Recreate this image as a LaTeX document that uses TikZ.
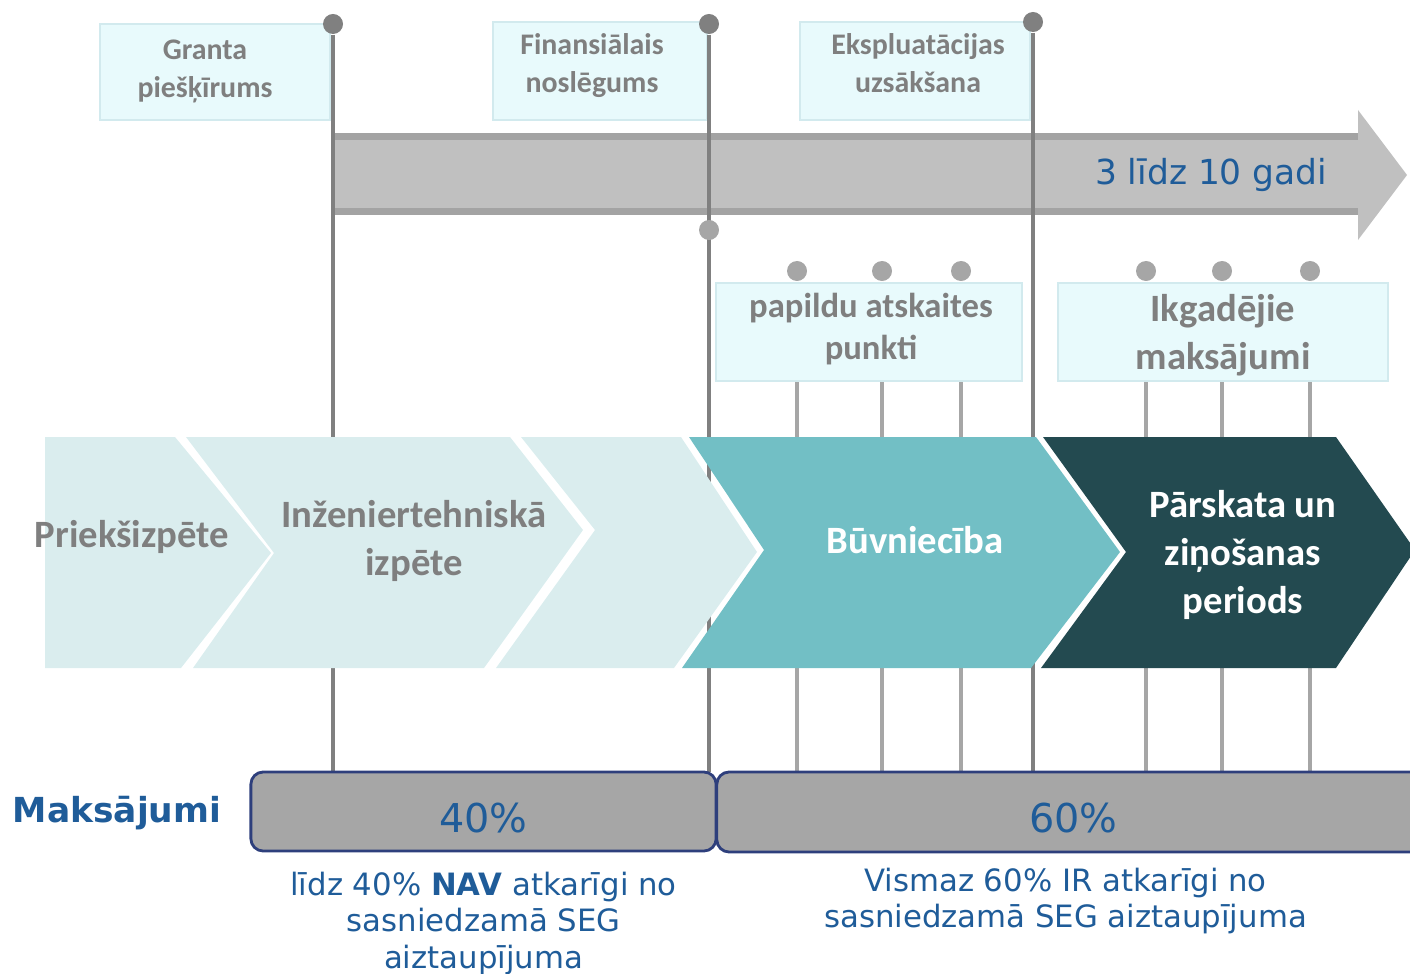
\documentclass[tikz,border=0pt]{standalone}
\usepackage{fontspec}
\setmainfont{Carlito}
\newfontfamily\verdana{DejaVu Sans}
\usetikzlibrary{positioning}
\definecolor{pGray}{HTML}{808080}
\definecolor{pLight}{HTML}{A6A6A6}
\definecolor{pBar}{HTML}{C0C0C0}
\definecolor{pBarEdge}{HTML}{A3A3A3}
\definecolor{pBox}{HTML}{E8FAFC}
\definecolor{pBoxLine}{HTML}{D2EAEE}
\definecolor{pText}{HTML}{7F7F7F}
\definecolor{pPale}{HTML}{DAEDEE}
\definecolor{pTeal}{HTML}{72BFC5}
\definecolor{pDark}{HTML}{234A50}
\definecolor{pBlue}{HTML}{1F5C99}
\definecolor{pNavy}{HTML}{2E3F7C}

\begin{document}
\begin{tikzpicture}[x=0.01cm, y=-0.01cm,
    tag/.style={draw=pBoxLine, fill=pBox, line width=0.7pt, inner sep=0pt},
    tagtext/.style={text=pText, align=center, inner sep=0pt, font=\bfseries\fontsize{8.5}{10.8}\selectfont},
    bigdot/.style={circle, fill=pGray, inner sep=0pt, minimum size=0.2cm},
    smalldot/.style={circle, fill=pLight, inner sep=0pt, minimum size=0.2cm},
    bigline/.style={draw=pGray, line width=1.4pt},
    smallline/.style={draw=pLight, line width=1.1pt},
    phase/.style={text=pText, align=center, font=\bfseries\fontsize{11}{13.7}\selectfont},
    paybar/.style={draw=pNavy, fill=pLight, line width=0.8pt, rounded corners=3.5pt, text=pBlue,
        text height=11.8pt, text depth=0pt, font=\verdana\fontsize{11.3}{13}\selectfont},
    note/.style={text=pBlue, align=center, font=\verdana\fontsize{8.75}{10.4}\selectfont}]
    \useasboundingbox (0,0) rectangle (1410,973);

    % time arrow
    \fill[pBar] (333,136) rectangle (1358,212);
    \draw[pBarEdge, line width=2pt] (333,136.5) -- (1358,136.5) (333,211.5) -- (1358,211.5);
    \fill[pBar] (1358,110) -- (1407,175) -- (1358,240) -- cycle;
    \node[anchor=east, inner sep=0pt, text=pBlue, font=\verdana\fontsize{9.8}{12}\selectfont] (span) at (1328,175) {3 līdz 10 gadi};

    % reporting points
    \foreach \x [count=\i] in {797,882,961,1146,1222,1310} {
        \node[smalldot] (s\i) at (\x,271) {};
        \coordinate (sb\i) at (\x,772);
        \draw[smallline] (s\i) -- (sb\i);
    }

    \node[tag, minimum width=2.3cm, minimum height=0.96cm] (grant) at (215,72) {};
    \node[tag, minimum width=2.14cm, minimum height=0.98cm] (close) at (600,71) {};
    \node[tag, minimum width=2.3cm, minimum height=0.98cm] (ops) at (915,71) {};
    \node[tag, minimum width=3.06cm, minimum height=0.98cm] (extra) at (869,332) {};
    \node[tag, minimum width=3.3cm, minimum height=0.98cm] (annual) at (1223,332) {};
    \node[tagtext] (grantT) at (205,71) {Granta\\piešķīrums};
    \node[tagtext] (closeT) at (592,66) {Finansiālais\\noslēgums};
    \node[tagtext] (opsT) at (918,63) {Ekspluatācijas\\uzsākšana};
    \node[tagtext, font=\bfseries\fontsize{9.85}{12}\selectfont] (extraT) at (871,329) {papildu atskaites\\punkti};
    \node[tagtext, font=\bfseries\fontsize{11}{13.7}\selectfont] (annualT) at (1223,335) {Ikgadējie\\maksājumi};

    % milestones
    \foreach \x/\y/\n in {333/24/m1, 709/24/m2, 1033/22/m3} {
        \node[bigdot] (\n) at (\x,\y) {};
        \coordinate (\n b) at (\x,772);
        \draw[bigline] (\n) -- (\n b);
    }
    \node[smalldot] (m2x) at (709,230) {};

    % phases
    \fill[pPale] (45,437) -- (175,437) -- (271,553) -- (181,668) -- (45,668) -- cycle;
    \fill[pPale] (186,437) -- (510,437) -- (583,530) -- (484,668) -- (193,668) -- (274,553) -- cycle;
    \fill[pPale] (521,437) -- (681,437) -- (757,552) -- (674,668) -- (496,668) -- (595,530) -- cycle;
    \fill[pTeal] (689,437) -- (1036,437) -- (1120,552) -- (1031,668) -- (682,668) -- (764,550) -- cycle;
    \fill[pDark] (1043,437) -- (1336,437) -- (1415,550) -- (1336,668) -- (1041,668) -- (1126,552) -- cycle;
    \node[phase] (pre) at (132,537) {Priekšizpēte};
    \node[phase] (eng) at (414,541) {Inženiertehniskā\\izpēte};
    \node[phase, text=white] (build) at (915,540) {Būvniecība};
    \node[phase, text=white] (report) at (1243,555) {Pārskata un\\ziņošanas\\periods};

    % payments
    \node[paybar, minimum width=4.65cm, minimum height=0.79cm] (p40) at (483.5,811.5) {40\%};
    \node[paybar, minimum width=7.13cm, minimum height=0.8cm] (p60) at (1073.5,812) {60\%};
    \node[text=pBlue, font=\verdana\bfseries\fontsize{9.8}{12}\selectfont] (pay) at (117,813) {Maksājumi};
    \node[note, below=0.07cm of p40] (n40) {līdz 40\% \textbf{NAV} atkarīgi no\\sasniedzamā SEG\\aiztaupījuma};
    \node[note, below=0.02cm of p60, xshift=-0.08cm] (n60) {Vismaz 60\% IR atkarīgi no\\sasniedzamā SEG aiztaupījuma};
\end{tikzpicture}
\end{document}
